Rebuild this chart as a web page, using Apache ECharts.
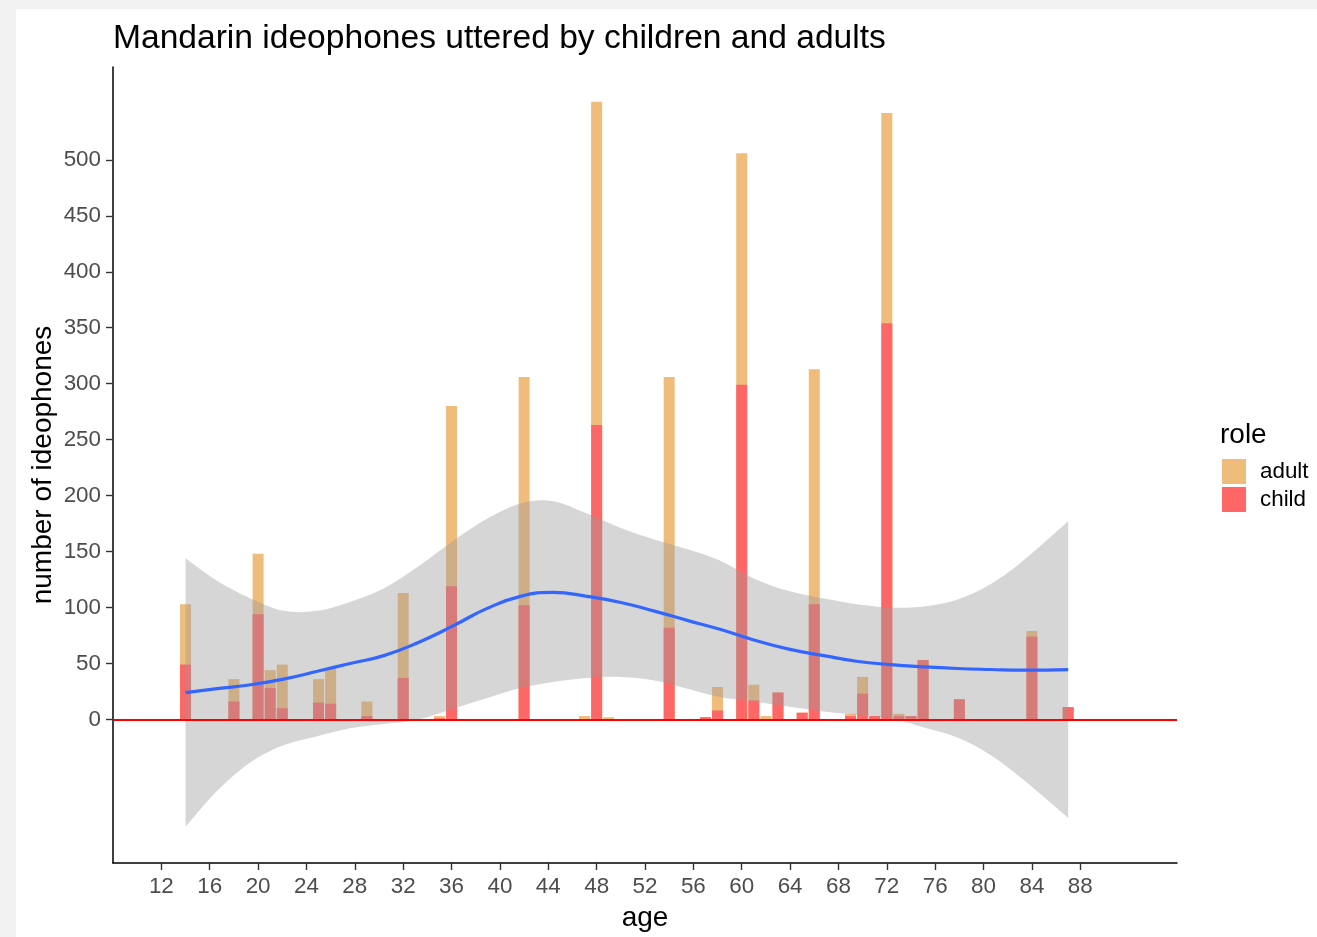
<!DOCTYPE html>
<html>
<head>
<meta charset="utf-8">
<script src="https://cdn.jsdelivr.net/npm/echarts@6/dist/echarts.min.js"></script>
<style>
  html, body { margin: 0; padding: 0; background: #f2f2f2; width: 1317px; height: 937px; overflow: hidden; }
  #chart { position: absolute; left: 16px; top: 9px; width: 1301px; height: 928px; background: #ffffff; }
</style>
</head>
<body>
<div id="chart"></div>
<script>
// Ideophone counts per age (months), split by speaker role
const ages  = [14, 18, 20, 21, 22, 25, 26, 29, 32, 35, 36, 42, 47, 48, 49, 54, 57, 58, 60, 61, 62, 63, 65, 66, 69, 70, 71, 72, 73, 74, 75, 78, 84, 87];
const child = [49, 16, 94, 28, 10, 15, 14, 3, 37, 1, 119, 102, 0, 263, 0, 82, 2, 8, 299, 17, 0, 24, 6, 103, 3, 23, 3, 354, 3, 3, 53, 18, 74, 11];
const adult = [54, 20, 54, 16, 39, 21, 32, 13, 76, 2, 161, 204, 3, 289, 2, 224, 0, 21, 207, 14, 3, 0, 0, 210, 2, 15, 0, 188, 2, 0, 0, 0, 5, 0];

// Smoothed trend with its confidence band
const smoothAge = [14, 16.6, 19.4, 22.1, 24.9, 27.6, 30.4, 33.3, 36.2, 38.9, 41.7, 44.4, 47.2, 50, 52.7, 55.5, 58.2, 61, 63.8, 66.8, 69.5, 72.3, 75, 77.8, 80.6, 83.3, 87];
const smoothFit = [24, 27.5, 31, 36, 43, 50, 57, 69, 84, 99, 110, 113.5, 110, 104.5, 97, 88.5, 80.5, 71, 63, 57, 52, 49, 47, 45.5, 44.6, 44, 44.5];
const smoothUpper = [144, 124, 108, 97, 97, 105, 117, 137, 160, 179, 193, 195, 184, 171, 161, 152, 142, 126, 115, 108, 103, 100, 101, 107, 121, 142, 177];
const smoothLower = [-96, -64, -38, -23, -15, -8, -4, 0, 10, 19, 28, 33.5, 37, 38, 35, 27.5, 20, 16, 11.5, 7, 4, 1, -7, -16, -32, -54, -88];

// Axis ticks
const xTicks = [12, 16, 20, 24, 28, 32, 36, 40, 44, 48, 52, 56, 60, 64, 68, 72, 76, 80, 84, 88];
const yTicks = [0, 50, 100, 150, 200, 250, 300, 350, 400, 450, 500];

const FONT = '"Liberation Sans", Arial, Helvetica, sans-serif';
const COL_ADULT = '#F0BC7C';
const COL_CHILD = '#FF6666';

// bar heights: adult counts sit on top of child counts
const totals = ages.map((a, i) => child[i] + adult[i]);

const chart = echarts.init(document.getElementById('chart'), null, { renderer: 'canvas' });

// Smooth path through pixel points (Catmull-Rom segments as cubic Beziers)
function curveSegments(pts) {
  let d = '';
  for (let i = 0; i < pts.length - 1; i++) {
    const p0 = pts[i - 1] || pts[i];
    const p1 = pts[i];
    const p2 = pts[i + 1];
    const p3 = pts[i + 2] || p2;
    const c1x = p1[0] + (p2[0] - p0[0]) / 6, c1y = p1[1] + (p2[1] - p0[1]) / 6;
    const c2x = p2[0] - (p3[0] - p1[0]) / 6, c2y = p2[1] - (p3[1] - p1[1]) / 6;
    d += ' C' + c1x + ' ' + c1y + ' ' + c2x + ' ' + c2y + ' ' + p2[0] + ' ' + p2[1];
  }
  return d;
}

// Confidence band: upper edge left to right, lower edge right to left
function renderBand(params, api) {
  if (params.dataIndex !== 0) return null;
  const up = smoothAge.map((a, i) => api.coord([a, smoothUpper[i]]));
  const lo = smoothAge.map((a, i) => api.coord([a, smoothLower[i]])).reverse();
  let d = 'M' + up[0][0] + ' ' + up[0][1] + curveSegments(up);
  d += ' L' + lo[0][0] + ' ' + lo[0][1] + curveSegments(lo) + ' Z';
  return {
    type: 'path',
    shape: { pathData: d },
    style: { fill: '#999999', opacity: 0.4, stroke: null }
  };
}

const axisCommon = {
  axisLine: { show: true, onZero: false, lineStyle: { color: '#000000', width: 1.5 } },
  axisTick: { show: true, length: 7, lineStyle: { color: '#333333', width: 1.4 } },
  splitLine: { show: false },
  nameMoveOverlap: false,
  nameTextStyle: { fontFamily: FONT, fontSize: 28, color: '#000000' }
};

const option = {
  animation: false,
  backgroundColor: '#ffffff',
  textStyle: { fontFamily: FONT },
  title: [
    {
      text: 'Mandarin ideophones uttered by children and adults',
      left: 97, top: 13, padding: 0,
      textStyle: { fontFamily: FONT, fontSize: 33.6, fontWeight: 'normal', color: '#000000', lineHeight: 34 }
    },
    {
      text: 'role',
      left: 1204, top: 412, padding: 0,
      textStyle: { fontFamily: FONT, fontSize: 28, fontWeight: 'normal', color: '#000000', lineHeight: 28 }
    }
  ],
  legend: {
    data: ['adult', 'child'],
    orient: 'vertical',
    left: 1206, top: 450,
    padding: 0,
    itemWidth: 24, itemHeight: 25, itemGap: 3,
    icon: 'rect',
    selectedMode: false,
    textStyle: { fontFamily: FONT, fontSize: 22.4, color: '#000000', padding: [3, 0, 0, 9] }
  },
  grid: { left: 97, right: 140, top: 58, bottom: 70 },
  xAxis: Object.assign({}, axisCommon, {
    type: 'value',
    min: 8, max: 96,
    name: 'age',
    nameLocation: 'middle',
    nameGap: 41,
    axisTick: Object.assign({}, axisCommon.axisTick, { customValues: xTicks }),
    axisLabel: { customValues: xTicks, margin: 13, fontFamily: FONT, fontSize: 22.4, color: '#4d4d4d' }
  }),
  yAxis: Object.assign({}, axisCommon, {
    type: 'value',
    min: -128.3, max: 583,
    name: 'number of ideophones',
    nameLocation: 'middle',
    nameGap: 56,
    axisTick: Object.assign({}, axisCommon.axisTick, { customValues: yTicks }),
    axisLabel: { customValues: yTicks, margin: 12, fontFamily: FONT, fontSize: 22.4, color: '#4d4d4d' }
  }),
  series: [
    {
      name: 'adult', type: 'bar', barWidth: 11, barGap: '-100%', z: 2,
      itemStyle: { color: COL_ADULT },
      emphasis: { disabled: true },
      data: ages.map((a, i) => [a, totals[i]])
    },
    {
      name: 'child', type: 'bar', barWidth: 11, barGap: '-100%', z: 2,
      itemStyle: { color: COL_CHILD },
      emphasis: { disabled: true },
      data: ages.map((a, i) => [a, child[i]])
    },
    {
      name: 'band', type: 'custom', silent: true, z: 3,
      renderItem: renderBand,
      encode: { x: 0, y: [1, 2] },
      data: smoothAge.map((a, i) => [a, smoothLower[i], smoothUpper[i]])
    },
    {
      name: 'fit', type: 'line', smooth: true, symbol: 'none', silent: true, z: 4,
      lineStyle: { color: '#3366FF', width: 3.2 },
      data: smoothAge.map((a, i) => [a, smoothFit[i]]),
      markLine: {
        silent: true, symbol: ['none', 'none'], z: 5,
        label: { show: false },
        emphasis: { disabled: true },
        lineStyle: { color: '#FF0000', width: 1.8, type: 'solid' },
        data: [{ yAxis: 0 }]
      }
    }
  ]
};

chart.setOption(option);
</script>
</body>
</html>
